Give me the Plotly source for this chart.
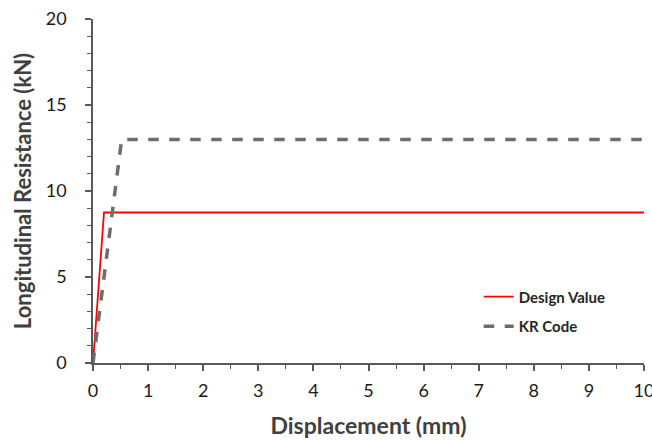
import plotly.graph_objects as go

design_x = [0, 0.2, 10]
design_y = [0, 8.75, 8.75]
kr_x = [0, 0.52, 10]
kr_y = [0, 13.0, 13.0]

x_ticks = list(range(0, 11))
y_ticks = [0, 5, 10, 15, 20]

axis_color = "#595959"
font_fam = "Lato, 'Open Sans', sans-serif"

fig = go.Figure()
fig.add_trace(go.Scatter(x=design_x, y=design_y, mode="lines", name="<b>Design Value</b>",
                         line=dict(color="#ff0000", width=1.8), legendgroup="a"))
fig.add_trace(go.Scatter(x=kr_x, y=kr_y, mode="lines", name="<b>KR Code</b>",
                         line=dict(color="#6d6d6d", width=3.5, dash="dash"), legendgroup="b"))

fig.update_layout(
    width=652, height=441,
    margin=dict(l=93, r=8, t=19, b=78, autoexpand=False),
    plot_bgcolor="white", paper_bgcolor="white",
    font=dict(family=font_fam, color="#262626"),
    legend=dict(x=0.7, y=0.24, xanchor="left", yanchor="top",
                font=dict(size=15, color="#262626"), tracegroupgap=7,
                itemwidth=30, bgcolor="rgba(0,0,0,0)"),
    xaxis=dict(range=[0, 10], tickvals=x_ticks, showgrid=False, zeroline=False,
               showline=True, linecolor=axis_color, linewidth=1.5, automargin=False,
               ticks="outside", ticklen=6, tickcolor=axis_color, tickwidth=1.5,
               ticklabeloverflow="allow", ticklabelstandoff=5,
               minor=dict(ticks="outside", dtick=0.5, ticklen=4, tickcolor=axis_color, tickwidth=1.2),
               tickfont=dict(size=18, family=font_fam, color="#1a1a1a"),
               title=dict(text="<b>Displacement (mm)</b>", font=dict(size=23, family=font_fam, color="#404040"), standoff=18)),
    yaxis=dict(range=[0, 20], tickvals=y_ticks, showgrid=False, zeroline=False,
               showline=True, linecolor=axis_color, linewidth=1.5, automargin=False,
               ticks="outside", ticklen=6, tickcolor=axis_color, tickwidth=1.5,
               ticklabeloverflow="allow", ticklabelstandoff=15,
               minor=dict(ticks="outside", dtick=1, ticklen=4, tickcolor=axis_color, tickwidth=1.2),
               tickfont=dict(size=18, family=font_fam, color="#1a1a1a"),
               title=dict(text="<b>Longitudinal Resistance (kN)</b>", font=dict(size=22, family=font_fam, color="#404040"), standoff=8)),
)

fig.write_html("out.html", config={"displayModeBar": False},
               post_script="document.body.style.margin='0';document.body.style.overflow='hidden';")
